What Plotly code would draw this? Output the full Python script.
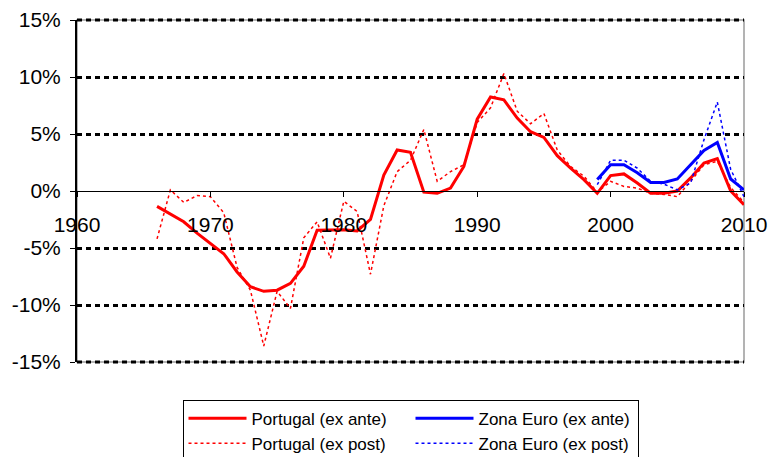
import plotly.graph_objects as go

years_pt = list(range(1966, 2011))
pt_ante = [-1.35, -2.0, -2.7, -3.7, -4.6, -5.5, -7.1, -8.4, -8.8, -8.7,
           -8.1, -6.6, -3.45, -3.4, -3.4, -3.5, -2.5, 1.4, 3.6, 3.4,
           -0.1, -0.2, 0.25, 2.15, 6.3, 8.25, 8.0, 6.4, 5.2, 4.7,
           3.1, 2.0, 1.0, -0.2, 1.35, 1.5, 0.7, -0.2, -0.2, 0.0,
           1.15, 2.45, 2.85, 0.0, -1.2]
pt_post = [-4.2, 0.1, -1.0, -0.4, -0.5, -1.9, -6.7, -8.7, -13.6, -8.8,
           -10.3, -4.1, -2.7, -5.9, -0.9, -1.8, -7.3, -1.3, 1.7, 2.7,
           5.4, 0.85, 1.7, 2.3, 6.0, 7.3, 10.3, 7.0, 5.9, 6.8,
           3.6, 2.15, 1.3, -0.1, 0.85, 0.4, 0.25, -0.2, -0.3, -0.5,
           0.85, 2.3, 2.6, 0.3, -1.0]
years_ez = list(range(1999, 2011))
ez_ante = [1.0, 2.3, 2.3, 1.6, 0.75, 0.75, 1.05, 2.3, 3.55, 4.25, 1.05, 0.1]
ez_post = [0.55, 2.7, 2.7, 2.0, 0.85, 0.6, 0.1, 0.7, 4.5, 7.8, 1.9, -0.5]

x_ticks = [1960, 1970, 1980, 1990, 2000, 2010]
y_ticks = [-15, -10, -5, 0, 5, 10, 15]
y_labels = ["-15%", "-10%", "-5%", "0%", "5%", "10%", "15%"]
grid_vals = [-15, -10, -5, 5, 10, 15]

FONT = "Arial, 'Liberation Sans', sans-serif"
GRID = dict(color="black", width=3, dash="5px,4px")

fig = go.Figure()
fig.add_trace(go.Scatter(x=years_pt, y=pt_ante, mode="lines", name="Portugal (ex ante)",
                         line=dict(color="#FF0000", width=3)))
fig.add_trace(go.Scatter(x=years_ez, y=ez_ante, mode="lines", name="Zona Euro (ex ante)",
                         line=dict(color="#0000FF", width=3)))
fig.add_trace(go.Scatter(x=years_pt, y=pt_post, mode="lines", name="Portugal (ex post)",
                         line=dict(color="#FF0000", width=1.5, dash="3px,3px")))
fig.add_trace(go.Scatter(x=years_ez, y=ez_post, mode="lines", name="Zona Euro (ex post)",
                         line=dict(color="#0000FF", width=1.5, dash="3px,3px")))

fig.update_layout(
    width=769, height=457,
    margin=dict(l=77, r=25, t=20, b=95, autoexpand=False),
    paper_bgcolor="white", plot_bgcolor="white",
    font=dict(family=FONT, color="black"),
    showlegend=True,
    legend=dict(orientation="h", x=0.5, xanchor="center", y=-0.11, yanchor="top",
                font=dict(size=17, family=FONT), bordercolor="black", borderwidth=1,
                entrywidth=154, tracegroupgap=0, itemwidth=58),
    xaxis=dict(range=[1960, 2010], tickvals=x_ticks, ticktext=[str(v) for v in x_ticks],
               anchor="free", position=0.5, showline=True, linecolor="black", linewidth=1,
               ticks="outside", ticklen=5, tickcolor="black", showgrid=False, zeroline=False,
               tickfont=dict(size=21, family=FONT), ticklabelstandoff=10),
    yaxis=dict(range=[-15, 15], tickvals=y_ticks, ticktext=y_labels,
               showline=True, linecolor="black", linewidth=2,
               ticks="outside", ticklen=5, tickcolor="black",
               showgrid=False, zeroline=False,
               tickfont=dict(size=21, family=FONT), ticklabelstandoff=5,
               minor=dict(tickvals=grid_vals, ticks="", showgrid=True, gridcolor="black",
                          gridwidth=3, griddash="5px,4px")),
    shapes=[dict(type="rect", xref="paper", yref="paper", x0=0, x1=1, y0=0, y1=1,
                 line=dict(color="#9a9a9a", width=1.5), layer="below"),
            dict(type="line", xref="paper", yref="paper", x0=0, x1=1, y0=1, y1=1,
                 line=GRID, layer="below"),
            dict(type="line", xref="paper", yref="paper", x0=0, x1=1, y0=0, y1=0,
                 line=GRID, layer="below")],
)

fig.write_html("out.html", config={"displayModeBar": False},
               post_script="document.body.style.margin='0';document.body.style.overflow='hidden';")
